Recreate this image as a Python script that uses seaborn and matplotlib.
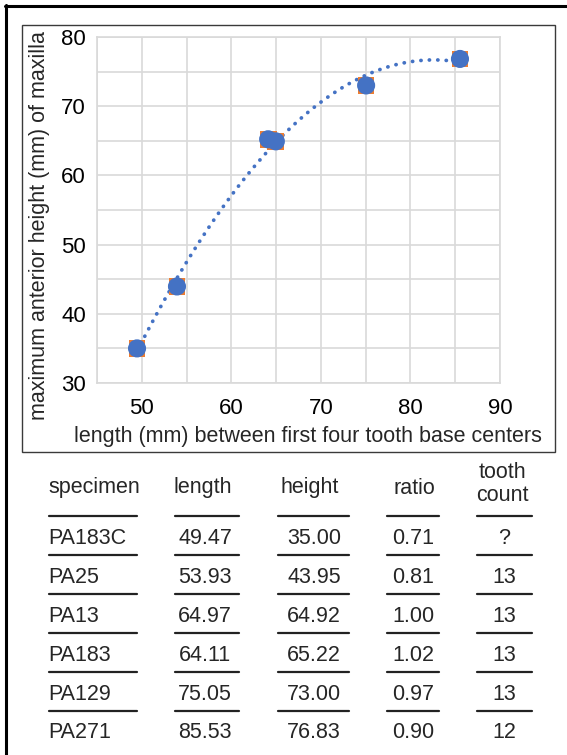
import numpy as np
import pandas as pd
import matplotlib
matplotlib.use("Agg")
import matplotlib.pyplot as plt
import seaborn as sns
from matplotlib.lines import Line2D
from matplotlib.patches import Rectangle

# ---- data ----
specimens = ["PA183C", "PA25", "PA13", "PA183", "PA129", "PA271"]
lengths = [49.47, 53.93, 64.97, 64.11, 75.05, 85.53]
heights = [35.00, 43.95, 64.92, 65.22, 73.00, 76.83]
ratios = [0.71, 0.81, 1.00, 1.02, 0.97, 0.90]
tooth_counts = ["?", "13", "13", "13", "13", "12"]
x_ticks = [50, 60, 70, 80, 90]
y_ticks = [30, 40, 50, 60, 70, 80]
headers = ["specimen", "length", "height", "ratio", "tooth\ncount"]
x_label = "length (mm) between first four tooth base centers"
y_label = "maximum anterior height (mm) of maxilla"

df = pd.DataFrame({"length": lengths, "height": heights})

sns.set_style("white")
plt.rcParams['font.family'] = ['Liberation Sans', 'DejaVu Sans']

W, H = 567, 755
fig = plt.figure(figsize=(W / 100, H / 100), dpi=100)


def fx(px):
    return px / W


def fy(py):
    return 1 - py / H


BLUE = "#4472C4"
ORANGE = "#ED7D31"
GRID = "#D9D9D9"

L, R, T, B = 97, 500, 37, 383
ax = fig.add_axes([fx(L), fy(B), fx(R) - fx(L), fy(T) - fy(B)])

sns.regplot(data=df, x="length", y="height", order=2, ci=None, scatter=False,
            ax=ax, line_kws=dict(color=BLUE, lw=2.7, linestyle=(0, (0.05, 2.2)),
                                 dash_capstyle="round", zorder=2))
sns.scatterplot(data=df, x="length", y="height", ax=ax, marker="s", s=145,
                color=ORANGE, edgecolor="none", zorder=3, legend=False)
sns.scatterplot(data=df, x="length", y="height", ax=ax, marker="o", s=170,
                color=BLUE, edgecolor="none", zorder=4, legend=False)

ax.set_xlim(45, 90)
ax.set_ylim(30, 80)
ax.set_xticks(x_ticks)
ax.set_yticks(y_ticks)
ax.set_xticks(np.arange(45, 91, 5), minor=True)
ax.set_yticks(np.arange(30, 81, 5), minor=True)
ax.grid(True, which="both", color=GRID, lw=1.2, zorder=0)
ax.set_axisbelow(True)
for sp in ax.spines.values():
    sp.set_color(GRID)
    sp.set_linewidth(1.2)
ax.tick_params(which="both", length=0, labelsize=16, colors="black")
ax.tick_params(axis="x", pad=11)
ax.tick_params(axis="y", pad=8)

ax.set_xlabel(x_label, fontsize=15.5, va="center")
ax.set_ylabel(y_label, fontsize=15.5, va="center")
ax.xaxis.set_label_coords((308 - L) / (R - L), (B - 437) / (B - T))
ax.yaxis.set_label_coords((40 - L) / (R - L), (B - 226) / (B - T))

# chart box
fig.patches.append(Rectangle((fx(22), fy(452)), fx(555) - fx(22), fy(25) - fy(452),
                             transform=fig.transFigure, fill=False,
                             edgecolor="#3a3a3a", lw=1.0))
# outer frame lines (top and left)
fig.lines.append(Line2D([fx(5), fx(567)], [fy(6), fy(6)], transform=fig.transFigure,
                        color="black", lw=2.2))
fig.lines.append(Line2D([fx(6), fx(6)], [fy(5), fy(755)], transform=fig.transFigure,
                        color="black", lw=2.2))

# ---- table ----
col_centers = [None, 205, 314, 413, 504]
head_centers = [None, 203, 310, 414, 502]
spans = [(49, 137), (175, 239), (278, 349), (387, 439), (477, 532)]
FS = 15.5

fig.text(fx(48), fy(488), headers[0], ha="left", va="center", fontsize=FS)
for j in range(1, 4):
    fig.text(fx(head_centers[j]), fy(488), headers[j], ha="center", va="center", fontsize=FS)
fig.text(fx(head_centers[4]), fy(484), headers[4], ha="center", va="center",
         fontsize=FS, linespacing=1.1)

line_ys = [516, 555, 594, 633, 672, 711]
for ly in line_ys:
    for (a, b) in spans:
        fig.lines.append(Line2D([fx(a), fx(b)], [fy(ly), fy(ly)], transform=fig.transFigure,
                                color="#222222", lw=1.6))

row_y0, row_dy = 539, 38.8
for i in range(len(specimens)):
    yy = fy(row_y0 + i * row_dy)
    fig.text(fx(48), yy, specimens[i], ha="left", va="center", fontsize=FS)
    fig.text(fx(col_centers[1]), yy, f"{lengths[i]:.2f}", ha="center", va="center", fontsize=FS)
    fig.text(fx(col_centers[2]), yy, f"{heights[i]:.2f}", ha="center", va="center", fontsize=FS)
    fig.text(fx(col_centers[3]), yy, f"{ratios[i]:.2f}", ha="center", va="center", fontsize=FS)
    fig.text(fx(col_centers[4]), yy, tooth_counts[i], ha="center", va="center", fontsize=FS)

fig.savefig("out.png", dpi=100)
